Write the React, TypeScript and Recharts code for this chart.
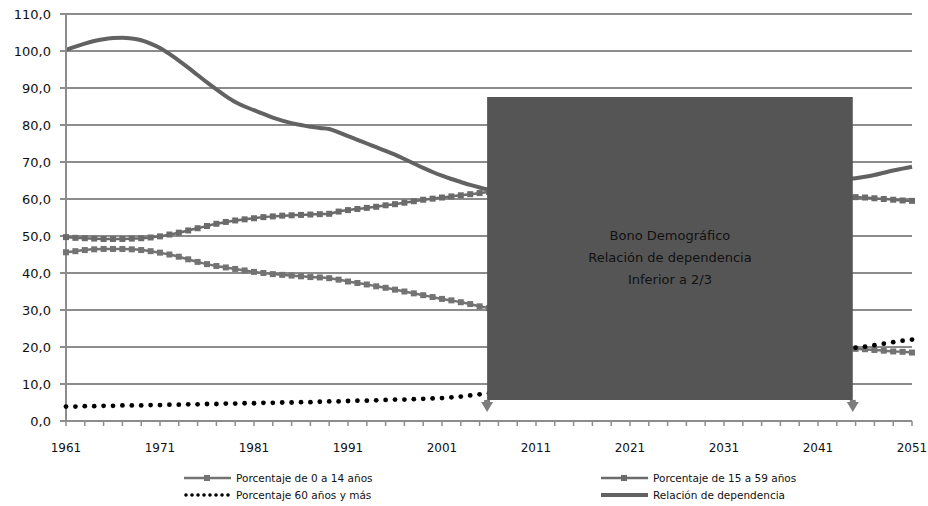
import React from 'react';
import {
  ComposedChart,
  Line,
  XAxis,
  YAxis,
  CartesianGrid,
  ReferenceArea,
  ReferenceLine,
} from 'recharts';

const years = [
  1961, 1962, 1963, 1964, 1965, 1966, 1967, 1968, 1969, 1970,
  1971, 1972, 1973, 1974, 1975, 1976, 1977, 1978, 1979, 1980,
  1981, 1982, 1983, 1984, 1985, 1986, 1987, 1988, 1989, 1990,
  1991, 1992, 1993, 1994, 1995, 1996, 1997, 1998, 1999, 2000,
  2001, 2002, 2003, 2004, 2005, 2006, 2007, 2008, 2009, 2010,
  2011, 2012, 2013, 2014, 2015, 2016, 2017, 2018, 2019, 2020,
  2021, 2022, 2023, 2024, 2025, 2026, 2027, 2028, 2029, 2030,
  2031, 2032, 2033, 2034, 2035, 2036, 2037, 2038, 2039, 2040,
  2041, 2042, 2043, 2044, 2045, 2046, 2047, 2048, 2049, 2050, 2051,
];

// Porcentaje de 0 a 14 años
const pct0a14 = [
  45.6, 45.9, 46.2, 46.4, 46.5, 46.5, 46.5, 46.4, 46.2, 45.9,
  45.5, 45.0, 44.4, 43.7, 43.0, 42.4, 41.9, 41.5, 41.1, 40.7,
  40.3, 40.0, 39.7, 39.5, 39.3, 39.1, 38.9, 38.8, 38.6, 38.2,
  37.7, 37.3, 36.9, 36.4, 36.0, 35.5, 35.0, 34.5, 34.0, 33.5,
  33.0, 32.6, 32.1, 31.6, 31.0, 30.5, 30.0, 29.5, 29.0, 28.6,
  28.2, 27.8, 27.4, 27.0, 26.6, 26.2, 25.8, 25.5, 25.2, 24.9,
  24.6, 24.3, 24.0, 23.7, 23.4, 23.1, 22.8, 22.5, 22.3, 22.0,
  21.8, 21.6, 21.4, 21.2, 21.0, 20.8, 20.6, 20.4, 20.2, 20.1,
  19.9, 19.8, 19.7, 19.6, 19.5, 19.4, 19.2, 19.0, 18.8, 18.7, 18.5,
];

// Porcentaje de 15 a 59 años
const pct15a59 = [
  49.7, 49.5, 49.4, 49.3, 49.2, 49.2, 49.2, 49.3, 49.4, 49.6,
  49.9, 50.4, 50.9, 51.5, 52.1, 52.7, 53.3, 53.8, 54.2, 54.5,
  54.8, 55.1, 55.3, 55.5, 55.6, 55.7, 55.8, 55.9, 56.0, 56.6,
  57.0, 57.3, 57.6, 57.9, 58.3, 58.6, 59.0, 59.4, 59.8, 60.1,
  60.4, 60.7, 61.0, 61.3, 61.6, 61.9, 62.2, 62.5, 62.8, 63.0,
  63.2, 63.4, 63.5, 63.6, 63.7, 63.8, 63.8, 63.8, 63.8, 63.7,
  63.6, 63.5, 63.4, 63.3, 63.2, 63.1, 63.0, 62.9, 62.7, 62.6,
  62.4, 62.3, 62.1, 62.0, 61.8, 61.7, 61.5, 61.4, 61.2, 61.1,
  61.0, 60.9, 60.8, 60.6, 60.5, 60.4, 60.2, 60.0, 59.8, 59.6, 59.5,
];

// Porcentaje 60 años y más
const pct60mas = [
  3.9, 3.9, 4.0, 4.0, 4.1, 4.1, 4.2, 4.2, 4.2, 4.3,
  4.3, 4.4, 4.4, 4.5, 4.5, 4.6, 4.6, 4.7, 4.7, 4.8,
  4.8, 4.9, 4.9, 5.0, 5.0, 5.1, 5.1, 5.2, 5.3, 5.3,
  5.4, 5.5, 5.5, 5.6, 5.7, 5.8, 5.8, 5.9, 6.0, 6.1,
  6.2, 6.4, 6.6, 6.9, 7.2, 7.5, 7.8, 8.1, 8.4, 8.7,
  9.0, 9.3, 9.6, 9.9, 10.2, 10.5, 10.8, 11.1, 11.4, 11.7,
  12.0, 12.3, 12.6, 12.9, 13.2, 13.5, 13.8, 14.1, 14.4, 14.7,
  15.0, 15.3, 15.6, 15.9, 16.2, 16.6, 17.0, 17.4, 17.8, 18.2,
  18.5, 18.9, 19.2, 19.5, 19.8, 20.1, 20.5, 20.9, 21.3, 21.7, 22.0,
];

// Relación de dependencia
const relDependencia = [
  100.3, 101.2, 102.0, 102.7, 103.2, 103.5, 103.6, 103.4, 102.9, 102.0,
  100.8, 99.2, 97.4, 95.5, 93.5, 91.5, 89.6, 87.8, 86.2, 85.0,
  84.0, 83.0, 82.0, 81.2, 80.5, 80.0, 79.5, 79.2, 78.9, 78.0,
  77.0, 76.0, 75.0, 74.0, 73.0, 72.0, 70.8, 69.6, 68.4, 67.3,
  66.3, 65.4, 64.6, 63.8, 63.1, 62.5, 62.0, 61.5, 61.0, 60.6,
  60.2, 59.8, 59.4, 59.1, 58.9, 58.7, 58.6, 58.5, 58.5, 58.6,
  58.7, 58.8, 59.0, 59.2, 59.4, 59.6, 59.9, 60.2, 60.5, 60.8,
  61.1, 61.4, 61.7, 62.0, 62.4, 62.7, 63.0, 63.3, 63.7, 64.0,
  64.4, 64.7, 65.0, 65.3, 65.6, 66.0, 66.5, 67.1, 67.7, 68.2, 68.7,
];

const xTicks = [
  1961, 1963, 1965, 1967, 1969, 1971, 1973, 1975, 1977, 1979,
  1981, 1983, 1985, 1987, 1989, 1991, 1993, 1995, 1997, 1999,
  2001, 2003, 2005, 2007, 2009, 2011, 2013, 2015, 2017, 2019,
  2021, 2023, 2025, 2027, 2029, 2031, 2033, 2035, 2037, 2039,
  2041, 2043, 2045, 2047, 2049, 2051,
];
const xLabels = [1961, 1971, 1981, 1991, 2001, 2011, 2021, 2031, 2041, 2051];
const yTicks = [0, 10, 20, 30, 40, 50, 60, 70, 80, 90, 100, 110];

// the "bono demográfico" box
const bonoDesde = 2005.8;
const bonoHasta = 2044.7;
const bonoArriba = 87.6;
const bonoAbajo = 5.7;
const bonoTexto = ['Bono Demográfico', 'Relación de dependencia', 'Inferior a 2/3'];

const data = years.map((year, i) => ({
  year,
  a: pct0a14[i],
  b: pct15a59[i],
  c: pct60mas[i],
  d: relDependencia[i],
}));

const C_014 = '#737373';
const C_1559 = '#6b6b6b';
const C_DEP = '#626262';
const GRID = '#8c8c8c';
const FONT = '"DejaVu Sans", Verdana, sans-serif';

const squareDot = (color: string) => (props: any) => (
  <rect
    key={`sq-${props.index}`}
    x={props.cx - 3}
    y={props.cy - 3}
    width={6}
    height={6}
    fill={color}
  />
);

const roundDot = (props: any) => (
  <circle key={`rd-${props.index}`} cx={props.cx} cy={props.cy} r={2.4} fill="#000" />
);

const Arrow = (props: any) => {
  const { x1, y1, y2 } = props;
  const tip = Math.max(y1, y2);
  const top = Math.min(y1, y2);
  return (
    <g>
      <rect x={x1 - 3} y={top} width={6} height={tip - top - 9} fill="#7d7d7d" />
      <path d={`M${x1 - 6},${tip - 10} L${x1 + 6},${tip - 10} L${x1},${tip} Z`} fill="#7d7d7d" />
    </g>
  );
};

const BoxLabel = (props: any) => {
  const { x, y, width, height } = props.viewBox;
  const cx = x + width / 2;
  const cy = y + height / 2 + 10;
  return (
    <g>
      {bonoTexto.map((t, i) => (
        <text
          key={t}
          x={cx}
          y={cy + (i - 1) * 22}
          textAnchor="middle"
          dominantBaseline="middle"
          fontSize={13}
          fontFamily={FONT}
          fill="#111"
        >
          {t}
        </text>
      ))}
    </g>
  );
};

function LegendItem({ label, kind }: { label: string; kind: string }) {
  return (
    <div style={{ display: 'flex', alignItems: 'center', height: 17 }}>
      <svg width={50} height={12} style={{ marginRight: 3 }}>
        {kind === 'sq014' && (
          <g>
            <line x1={1} y1={6} x2={48} y2={6} stroke={C_014} strokeWidth={2.5} />
            <rect x={21} y={3} width={6} height={6} fill={C_014} />
          </g>
        )}
        {kind === 'sq1559' && (
          <g>
            <line x1={1} y1={6} x2={48} y2={6} stroke={C_1559} strokeWidth={2.5} />
            <rect x={21} y={3} width={6} height={6} fill={C_1559} />
          </g>
        )}
        {kind === 'dots' &&
          [3, 9, 15, 21, 27, 33, 39, 45].map((px) => (
            <circle key={px} cx={px} cy={6} r={1.8} fill="#000" />
          ))}
        {kind === 'thick' && (
          <line x1={1} y1={6} x2={48} y2={6} stroke={C_DEP} strokeWidth={4} />
        )}
      </svg>
      <span style={{ fontSize: 10.5, fontFamily: FONT, color: '#111' }}>{label}</span>
    </div>
  );
}

export default function App() {
  return (
    <div style={{ position: 'absolute', left: 0, top: 0, width: 928, height: 506, background: '#fff' }}>
      <ComposedChart
        width={928}
        height={506}
        data={data}
        margin={{ top: 14, right: 16, bottom: 55, left: 0 }}
      >
        <CartesianGrid vertical={false} stroke={GRID} strokeWidth={2} />
        <XAxis
          dataKey="year"
          type="number"
          domain={[1961, 2051]}
          ticks={xTicks}
          interval={0}
          height={30}
          tickFormatter={(v) => (xLabels.includes(v) ? String(v) : '')}
          tick={{ fill: '#111', fontSize: 12, fontFamily: FONT }}
          axisLine={{ stroke: GRID, strokeWidth: 2 }}
          tickLine={{ stroke: GRID, strokeWidth: 1.5 }}
          tickSize={5}
          tickMargin={17}
        />
        <YAxis
          type="number"
          domain={[0, 110]}
          ticks={yTicks}
          interval={0}
          width={66}
          tickFormatter={(v) => v.toFixed(1).replace('.', ',')}
          tick={{ fill: '#111', fontSize: 13, fontFamily: FONT }}
          axisLine={{ stroke: GRID, strokeWidth: 2 }}
          tickLine={{ stroke: GRID, strokeWidth: 2 }}
          tickSize={6}
          tickMargin={9}
        />
        <Line
          type="monotone"
          dataKey="d"
          stroke={C_DEP}
          strokeWidth={4}
          dot={false}
          isAnimationActive={false}
        />
        <Line
          type="monotone"
          dataKey="b"
          stroke={C_1559}
          strokeWidth={2.5}
          dot={squareDot(C_1559)}
          isAnimationActive={false}
        />
        <Line
          type="monotone"
          dataKey="a"
          stroke={C_014}
          strokeWidth={2.5}
          dot={squareDot(C_014)}
          isAnimationActive={false}
        />
        <Line
          type="monotone"
          dataKey="c"
          stroke="#000"
          strokeOpacity={0}
          dot={roundDot}
          isAnimationActive={false}
        />
        <ReferenceArea
          x1={bonoDesde}
          x2={bonoHasta}
          y1={bonoAbajo}
          y2={bonoArriba}
          fill="#555555"
          fillOpacity={1}
          stroke="none"
          zIndex={1500}
          label={<BoxLabel />}
        />
        <ReferenceLine
          segment={[{ x: bonoDesde, y: bonoAbajo }, { x: bonoDesde, y: 2.4 }]}
          shape={<Arrow />}
          zIndex={1600}
        />
        <ReferenceLine
          segment={[{ x: bonoHasta, y: bonoAbajo }, { x: bonoHasta, y: 2.4 }]}
          shape={<Arrow />}
          zIndex={1600}
        />
      </ComposedChart>
      <div style={{ position: 'absolute', left: 183, top: 469 }}>
        <LegendItem label="Porcentaje de 0 a 14 años" kind="sq014" />
        <LegendItem label="Porcentaje 60 años y más" kind="dots" />
      </div>
      <div style={{ position: 'absolute', left: 600, top: 469 }}>
        <LegendItem label="Porcentaje de 15 a 59 años" kind="sq1559" />
        <LegendItem label="Relación de dependencia" kind="thick" />
      </div>
    </div>
  );
}
